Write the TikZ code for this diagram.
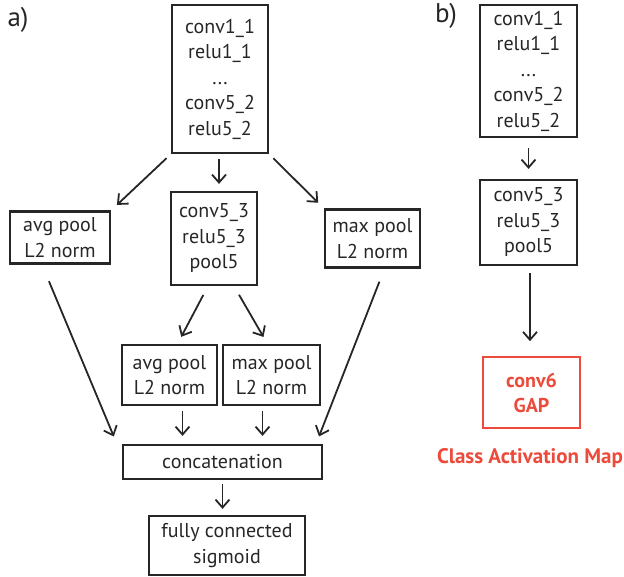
\documentclass[tikz,border=0pt]{standalone}
\usepackage{fontspec}
\setmainfont{PT Sans}
\usepackage{xcolor}
\usetikzlibrary{arrows.meta}

\definecolor{camred}{RGB}{236,74,58}

\begin{document}
\begin{tikzpicture}[x=1pt,y=-1pt,
  box/.style={draw=black!85, line width=2.2pt, align=center, inner sep=0pt,
    font=\fontsize{20}{25.5}\selectfont, text=black!85},
  redbox/.style={box, draw=camred, line width=1.6pt, text=camred,
    font=\fontsize{20}{25}\selectfont\bfseries},
  arrow/.style={-{Straight Barb[length=8pt,width=14pt]}, line width=1.8pt, draw=black!85}]
  % Fix the page size
  \useasboundingbox (0,0) rectangle (624,577);

  % Panel labels
  \node[font=\fontsize{27}{30}\selectfont, text=black!85] (lbla) at (18,20) {a)};
  \node[font=\fontsize{27}{30}\selectfont, text=black!85] (lblb) at (446,16) {b)};

  % Draw the boxes of panel a
  \node[box, minimum width=96pt, minimum height=148pt] (topa) at (220,79)
    {conv1\_1\\relu1\_1\\...\\conv5\_2\\relu5\_2};
  \node[box, minimum width=100pt, minimum height=52pt] (avga) at (60,237.5)
    {avg pool\\L2 norm};
  \node[box, minimum width=86pt, minimum height=93pt] (conva) at (214,238.5)
    {conv5\_3\\relu5\_3\\pool5};
  \node[box, minimum width=95pt, minimum height=58pt] (maxa) at (372.5,238.5)
    {max pool\\L2 norm};
  \node[box, minimum width=95pt, minimum height=60pt] (avgb) at (169.5,375)
    {avg pool\\L2 norm};
  \node[box, minimum width=97pt, minimum height=60pt] (maxb) at (271.5,375)
    {max pool\\L2 norm};
  \node[box, minimum width=199pt, minimum height=34pt] (concat) at (222.5,462)
    {concatenation};
  \node[box, minimum width=156pt, minimum height=59pt] (fc) at (227,545.5)
    {fully connected\\sigmoid};

  % Draw the boxes of panel b
  \node[box, minimum width=97pt, minimum height=132pt] (topb) at (528.5,71)
    {conv1\_1\\relu1\_1\\...\\conv5\_2\\relu5\_2};
  \node[box, minimum width=97pt, minimum height=85pt] (convb) at (528.5,222.5)
    {conv5\_3\\relu5\_3\\pool5};
  \node[redbox, minimum width=97pt, minimum height=71pt] (gap) at (531.5,392.5)
    {conv6\\GAP};
  \node[text=camred, font=\fontsize{21}{25}\selectfont\bfseries] (cam) at (530,458)
    {Class Activation Map};

  % Arrows of panel a
  \draw[arrow, shorten <=6pt, shorten >=8pt] (topa.south west) -- (avga.north east);
  \draw[arrow, shorten <=6pt, shorten >=8pt] (topa.south east) -- (maxa.north west);
  \draw[arrow, shorten <=5pt, shorten >=7pt] ([xshift=-1pt]topa.south) -- ([xshift=-1pt]topa.south |- conva.north);
  \draw[arrow, shorten <=10pt, shorten >=8pt] ([xshift=-6pt]conva.south) -- ([xshift=8pt]avgb.north);
  \draw[arrow, shorten <=10pt, shorten >=8pt] ([xshift=20pt]conva.south) -- ([xshift=-4pt]maxb.north);
  \draw[arrow, shorten <=18pt, shorten >=8pt] ([xshift=-18pt]avga.south) -- ([xshift=-5pt]concat.north west);
  \draw[arrow, shorten <=14pt, shorten >=8pt] ([xshift=12pt]maxa.south) -- ([xshift=-7pt]concat.north east);
  \draw[arrow, shorten <=5pt, shorten >=8pt] ([xshift=13pt]avgb.south) -- ([xshift=13pt]avgb.south |- concat.north);
  \draw[arrow, shorten <=5pt, shorten >=8pt] ([xshift=-9pt]maxb.south) -- ([xshift=-9pt]maxb.south |- concat.north);
  \draw[arrow, shorten <=4pt, shorten >=6pt] (concat.south) -- (concat.south |- fc.north);

  % Arrows of panel b
  \draw[arrow, shorten <=10pt, shorten >=10pt] (topb.south) -- (convb.north);
  \draw[arrow, shorten <=7pt, shorten >=15pt] ([xshift=1.5pt]convb.south) -- ([xshift=1.5pt]convb.south |- gap.north);
\end{tikzpicture}
\end{document}
